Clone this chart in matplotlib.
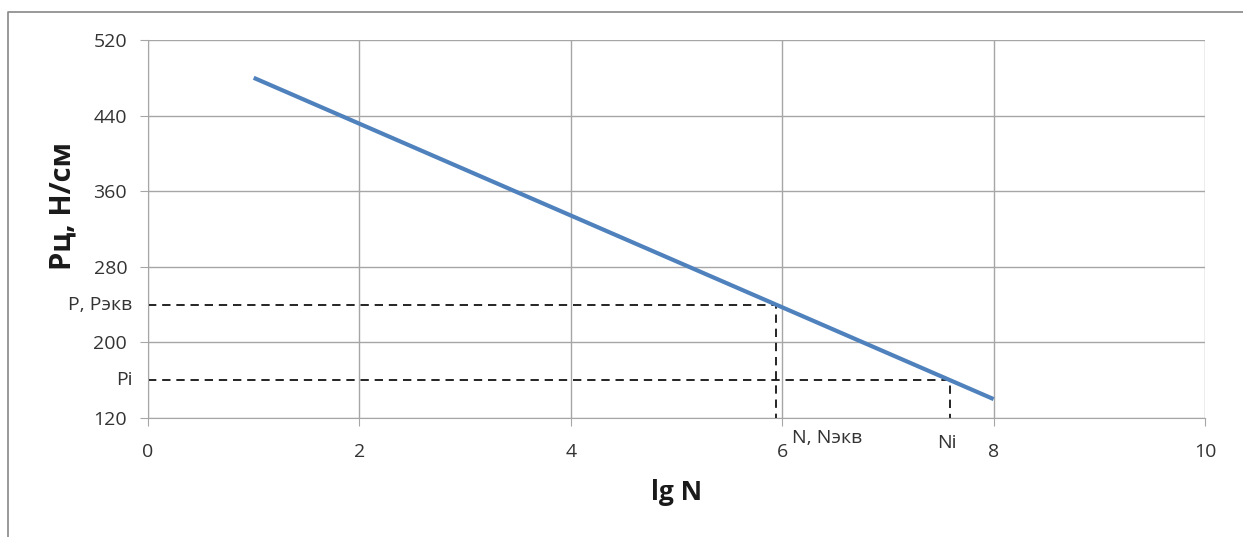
import matplotlib
matplotlib.use("Agg")
import matplotlib.pyplot as plt
from matplotlib.lines import Line2D

# Data
lgN = [1, 8]
Pc = [480, 140]
P_ekv = 240
N_ekv = 5.94
P_i = 160
N_i = 7.59
x_ticks = [0, 2, 4, 6, 8, 10]
y_ticks = [120, 200, 280, 360, 440, 520]

plt.rcParams['font.family'] = ['Open Sans', 'DejaVu Sans']

W, H = 1243, 537
fig = plt.figure(figsize=(W/100, H/100), dpi=100)
fig.add_artist(Line2D([8/W, 8/W, 1.0], [0, 1 - 12/H, 1 - 12/H], transform=fig.transFigure,
                      color='#888888', linewidth=1.2))
ax = fig.add_axes([148/W, 1 - 418/H, (1205-148)/W, (418-40)/H])

ax.plot(lgN, Pc, color='#4F81BD', linewidth=3, solid_capstyle='butt', zorder=3)
ax.plot([0, N_ekv, N_ekv], [P_ekv, P_ekv, 119], color='black', linestyle=(0, (5, 3.5)), linewidth=1.2, zorder=2, clip_on=False)
ax.plot([0, N_i, N_i], [P_i, P_i, 119], color='black', linestyle=(0, (5, 3.5)), linewidth=1.2, zorder=2, clip_on=False)

ax.set_xlim(0, 10)
ax.set_ylim(120, 520)
ax.set_xticks(x_ticks)
ax.set_yticks(y_ticks)
ax.grid(True, color='#A6A6A6', linewidth=1)
for s in ['top', 'right']:
    ax.spines[s].set_visible(False)
for s in ['left', 'bottom']:
    ax.spines[s].set_color('#A6A6A6')
ax.tick_params(axis='both', colors='#A6A6A6', labelcolor='#333333', labelsize=14, length=6)
ax.tick_params(axis='x', pad=12)
ax.tick_params(axis='y', pad=9)

ax.text(-0.15, P_ekv, 'P, Pэкв', ha='right', va='center', fontsize=14, color='#333333')
ax.text(-0.15, P_i, 'Pi', ha='right', va='center', fontsize=14, color='#333333')
ax.text(6.09, 99, 'N, Nэкв', ha='left', va='center', fontsize=14, color='#333333', clip_on=False)
ax.text(7.56, 94, 'Ni', ha='center', va='center', fontsize=14, color='#333333', clip_on=False)

fig.text(677/W, 1 - 493/H, 'lg N', ha='center', va='center', fontsize=19, fontweight='bold', color='#1a1a1a')
fig.text(63/W, 1 - 206/H, 'Рц, Н/см', ha='center', va='center', rotation=90, fontsize=21, fontweight='bold', color='#1a1a1a')

fig.savefig('out.png', dpi=100)
